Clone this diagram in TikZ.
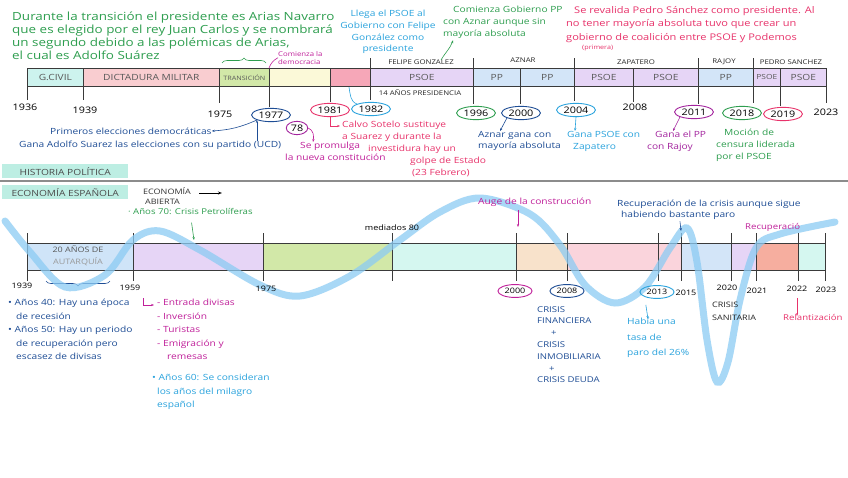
\documentclass[tikz,border=0pt]{standalone}
\usepackage{fontspec}
\setmainfont[FakeStretch=1.2]{Open Sans}
\usepackage{tikz}
\usetikzlibrary{positioning}
\usetikzlibrary{calc,shapes.geometric,decorations.pathreplacing,arrows.meta}

\definecolor{txtgreen}{HTML}{2E9E4F}
\definecolor{txtsky}{HTML}{2AA3DD}
\definecolor{txtnavy}{HTML}{1E4D95}
\definecolor{txtmag}{HTML}{C0209A}
\definecolor{txtpink}{HTML}{E8336B}
\definecolor{txtpurple}{HTML}{A3249E}
\definecolor{barline}{HTML}{3A3A3A}
\definecolor{cyanbar}{HTML}{CDF3EE}
\definecolor{pinkbar}{HTML}{F9CDD0}
\definecolor{greenbar}{HTML}{D2E8A8}
\definecolor{yellowbar}{HTML}{FBF9D8}
\definecolor{rosebar}{HTML}{F6A7B8}
\definecolor{lavbar}{HTML}{E6D5F6}
\definecolor{bluebar}{HTML}{D3E5F8}
\definecolor{autbar}{HTML}{CFE4F8}
\definecolor{mintbar}{HTML}{D5F7F0}
\definecolor{peachbar}{HTML}{F8E2CB}
\definecolor{salmonbar}{HTML}{F6AE9F}
\definecolor{softpink}{HTML}{FAD4DC}
\definecolor{headbg}{HTML}{BDEEE3}
\definecolor{wave}{HTML}{8CCBF3}

\tikzset{
  seg/.style={draw=barline, line width=0.7pt, inner sep=0pt, anchor=north west,
    text=black!65, font=\fontsize{8.5}{8.5}\selectfont},
  yr/.style={inner sep=1pt, font=\fontsize{9}{9}\selectfont},
  ring/.style={yr, ellipse, draw=#1, line width=0.9pt, inner sep=1.4pt},
  lowyr/.style={inner sep=1pt, font=\fontsize{7.5}{7.5}\selectfont},
  lowring/.style={lowyr, ellipse, draw=#1, line width=0.9pt, inner sep=1.8pt},
  note/.style={inner sep=0pt, anchor=north west, align=left,
    font=\fontsize{8.5}{11.7}\selectfont},
  lbl/.style={inner sep=0pt, text=black!85, font=\fontsize{6.5}{6.5}\selectfont},
  bartick/.style={barline, line width=0.8pt},
  hint/.style={-{Stealth[length=3pt]}, line width=0.6pt},
  secthead/.style={fill=headbg, inner sep=2pt, anchor=north west, text=black!70,
    font=\fontsize{8.5}{8.5}\selectfont, minimum height=14pt, minimum width=126pt},
}

\begin{document}
\begin{tikzpicture}[x=1pt,y=-1pt]

	\path[use as bounding box, fill=white] (0,0) rectangle (848,477);

	% HISTORIA POLITICA: barra de periodos
	\foreach \a/\b/\c/\t in {27/83/cyanbar/G.CIVIL, 83/219/pinkbar/DICTADURA MILITAR,
	    219/269/greenbar/{\fontsize{6}{6}\selectfont TRANSICIÓN}, 269/330/yellowbar/{}, 330/370/rosebar/{},
	    370/473/lavbar/PSOE, 473/520/bluebar/PP, 520/574/bluebar/PP, 574/633/lavbar/PSOE,
	    633/698/lavbar/PSOE, 698/753/bluebar/PP, 753/780/lavbar/{\fontsize{7}{7}\selectfont PSOE},
	    780/826/lavbar/PSOE}
	  \node[seg, fill=\c, minimum width={(\b-\a)*1pt}, minimum height=18pt] (top\a) at (\a,68) {\t};

	\foreach \x/\ya/\yb in {27/68/100, 83/68/100, 219/68/103, 269/68/107, 330/68/102, 370/58/100,
	    473/58/104, 520/86/104, 574/58/101, 633/86/102, 698/58/104, 753/58/103, 780/86/106, 826/68/103}
	  \draw[bartick] (\x,\ya) -- (\x,\yb);

	% presidentes
	\node[lbl] (felipe) at (421,62) {FELIPE GONZALEZ};
	\node[lbl] (aznar) at (523,60) {AZNAR};
	\node[lbl] (zapatero) at (636,62) {ZAPATERO};
	\node[lbl] (rajoy) at (724,62) {RAJOY};
	\node[lbl] (pedro) at (791,62) {PEDRO SANCHEZ};
	\node[lbl] (catorce) at (420,93) {14 AÑOS PRESIDENCIA};

	% años
	\node[yr] (y1936) at (25,107) {1936};
	\node[yr] (y1939) at (85,110) {1939};
	\node[yr] (y1975) at (220,114) {1975};
	\node[ring=txtnavy] (y1977) at (271,115) {1977};
	\node[ring=txtpink] (y1981) at (330,110) {1981};
	\node[ring=txtsky] (y1982) at (371,109) {1982};
	\node[ring=txtgreen] (y1996) at (476,113) {1996};
	\node[ring=txtnavy] (y2000) at (521,113) {2000};
	\node[ring=txtsky] (y2004) at (576,110) {2004};
	\node[yr] (y2008) at (635,107) {2008};
	\node[ring=txtpurple] (y2011) at (694,112) {2011};
	\node[ring=txtgreen] (y2018) at (742,113) {2018};
	\node[ring=txtpink] (y2019) at (783,114) {2019};
	\node[yr] (y2023) at (826,112) {2023};
	\node[ring=txtpurple] (y78) at (297,128) {78};

	% notas de arriba
	\node[note, text=txtgreen, font=\fontsize{11.2}{12.8}\selectfont] (arias) at (12,12)
	  {Durante la transición el presidente es Arias Navarro\\que es elegido por el rey Juan Carlos y se nombrará\\un segundo debido a las polémicas de Arias,\\el cual es Adolfo Suárez};
	\draw[decorate, decoration={brace, amplitude=5pt}, txtgreen, line width=0.6pt] (222,63) -- (266,63);

	\node[note, text=txtmag, font=\fontsize{6.5}{8}\selectfont] (demo) at (278,51) {Comienza la\\democracia};
	\coordinate (c1977) at (269,68);
	\draw[txtmag, line width=0.6pt] (demo.west) to[bend right=20] (c1977);

	\node[note, text=txtsky, align=center, anchor=north] (llega) at (388,10)
	  {Llega el PSOE al\\Gobierno con Felipe\\González como\\presidente};
	\coordinate (cpsoe) at (349,87);
	\draw[txtsky, line width=0.6pt] (y1982.north west) to[out=160, in=-80] (cpsoe);

	\node[note, text=txtgreen] (aznartxt) at (443,6)
	  {\hspace*{10pt}Comienza Gobierno PP\\con Aznar aunque sin\\mayoría absoluta};
	\coordinate (cfelipe) at (441,60);
	\draw[txtgreen, hint] (cfelipe) to[out=60, in=-110] ([xshift=10pt,yshift=-2pt]aznartxt.south west);

	\node[note, text=txtpink, font=\fontsize{9.2}{13.5}\selectfont] (revalida) at (566,6)
	  {\hspace*{8pt}Se revalida Pedro Sánchez como presidente. Al\\no tener mayoría absoluta tuvo que crear un\\gobierno de coalición entre PSOE y Podemos};
	\node[note, text=txtpink, font=\fontsize{6}{6}\selectfont] (primera) at (582,45) {(primera)};

	% notas de abajo
	\node[note, text=txtnavy, anchor=west] (primeras) at (50,131) {Primeros elecciones democráticas};
	\node[note, text=txtnavy, anchor=west] (gana) at (19,145) {Gana Adolfo Suarez las elecciones con su partido (UCD)};
	\draw[txtnavy, hint] (y1977.south west) to[bend left=10] (primeras.east);
	\draw[txtnavy, hint] (gana.north -| y1977.south west) -- (y1977.south west);

	\node[note, text=txtmag] (constit) at (285,142) {\hspace*{15pt}Se promulga\\la nueva constitución};
	\draw[txtmag, hint] (y78.east) to[out=-20, in=80] ([xshift=28pt]constit.north west);

	\node[note, text=txtpink] (calvo) at (342,121) {Calvo Sotelo sustituye\\a Suarez y durante la\\\hspace*{26pt}investidura hay un};
	\node[note, text=txtpink] (golpe) at (410,157) {golpe de Estado\\\hspace*{2pt}(23 Febrero)};
	\draw[txtpink, hint] (y1981.south) |- ([xshift=-2pt,yshift=-5pt]calvo.north west);

	\node[note, text=txtnavy] (aznargana) at (478,131) {Aznar gana con\\mayoría absoluta};
	\draw[txtnavy, hint] (y2000.south west) -- ([xshift=22pt]aznargana.north west);
	\node[note, text=txtsky] (ganapsoe) at (567,131) {Gana PSOE con\\\hspace*{6pt}Zapatero};
	\draw[txtsky, hint] (y2004.south) -- ([xshift=8pt]ganapsoe.north west);
	\node[note, text=txtpurple] (ganapp) at (647,131) {\hspace*{8pt}Gana el PP\\con Rajoy};
	\draw[txtpurple, hint] (y2011.south west) -- ([xshift=26pt]ganapp.north west);
	\node[note, text=txtgreen] (mocion) at (716,129) {\hspace*{8pt}Moción de\\censura liderada\\por el PSOE};

	% secciones
	\node[secthead] (hpol) at (2,164) {HISTORIA POLÍTICA};
	\draw[black!45, line width=2.5pt] (0,181) -- (848,181);
	\node[secthead] (econ) at (2,185) {ECONOMÍA ESPAÑOLA};

	% ECONOMIA: barra
	\foreach \a/\b/\c in {27/133/autbar, 133/263/lavbar, 263/392/greenbar, 392/516/mintbar,
	    516/567/peachbar, 567/681/softpink, 681/731/bluebar, 731/756/lavbar, 756/798/salmonbar, 798/825/mintbar}
	  \node[seg, fill=\c, minimum width={(\b-\a)*1pt}, minimum height=27pt] (eco\a) at (\a,243) {};

	\foreach \x in {27,133,263,392,516,567,658,681,731,756,798,825}
	  \draw[bartick] (\x,233) -- (\x,281);

	\node[note, anchor=north, align=center, text=black!65, font=\fontsize{7.5}{12}\selectfont] (autarquia) at (78,246)
	  {20 AÑOS DE\\\textcolor{black!40}{AUTARQUÍA}};
	\draw[decorate, decoration={brace, amplitude=5pt}, txtnavy, line width=0.6pt] (110,281) -- (46,281);

	% curva de la economia
	\draw[wave, line width=7pt, opacity=0.75, line cap=round] plot[smooth, tension=0.55] coordinates {
	  (5,221) (30,252) (65,287) (105,275) (133,240) (160,231) (200,250) (260,285) (300,296)
	  (350,276) (400,240) (440,212) (480,198) (530,214) (560,245) (585,285) (615,303) (645,287)
	  (670,248) (687,228) (697,262) (707,340) (717,382) (728,362) (740,300) (756,248) (780,234) (835,222)};

	\node[lowyr] (e1939) at (22,286) {1939};
	\node[lowyr] (e1959) at (130,288) {1959};
	\node[lowyr] (e1975) at (266,289) {1975};
	\node[lowyr] (mediados) at (392,228) {mediados 80};
	\node[lowring=txtmag] (e2000) at (515,291) {2000};
	\node[lowring=txtnavy] (e2008) at (567,291) {2008};
	\node[lowring=txtsky] (e2013) at (657,292) {2013};
	\node[lowyr] (e2015) at (686,293) {2015};
	\node[lowyr] (e2020) at (727,288) {2020};
	\node[lowyr] (e2021) at (757,291) {2021};
	\node[lowyr] (e2022) at (797,289) {2022};
	\node[lowyr] (e2023) at (826,290) {2023};

	% notas economia
	\node[note, text=black!80, font=\fontsize{7.5}{10}\selectfont] (abierta) at (143,187) {ECONOMÍA\\\hspace*{2pt}ABIERTA};
	\coordinate (abiertaend) at (222,193);
	\draw[-{Stealth[length=4pt,open]}, line width=0.6pt] ([xshift=8pt,yshift=-6pt]abierta.north east) -- (abiertaend);
	\node[note, text=txtgreen, font=\fontsize{8}{10}\selectfont] (petro) at (128,208) {· Años 70: Crisis Petrolíferas};
	\coordinate (petroarrow) at (194,240);
	\draw[txtgreen, hint, shorten <=8pt] (petro.south) -- (petroarrow);

	\node[note, text=txtmag, font=\fontsize{8.5}{10}\selectfont] (auge) at (478,198) {Auge de la construcción};
	\coordinate (c2000top) at (518,227);
	\draw[txtmag, hint] ([xshift=40pt,yshift=-3pt]auge.south west) -- (c2000top);

	\node[note, text=txtnavy, font=\fontsize{8.5}{10.5}\selectfont] (recup) at (617,200)
	  {Recuperación de la crisis aunque sigue\\\hspace*{4pt}habiendo bastante paro};
	\coordinate (cpeak) at (681,231);
	\draw[txtnavy, hint] ([xshift=63pt,yshift=-2pt]recup.south west) -- (cpeak);
	\node[note, text=txtmag, font=\fontsize{8}{8}\selectfont] (recup2) at (745,223) {Recuperació};

	\node[note, text=txtnavy, font=\fontsize{8.5}{13.5}\selectfont] (anos4050) at (8,299)
	  {• Años 40: Hay una época\\\hspace*{8pt}de recesión\\• Años 50: Hay un periodo\\\hspace*{8pt}de recuperación pero\\\hspace*{8pt}escasez de divisas};

	\node[note, text=txtmag, font=\fontsize{8.5}{13.5}\selectfont] (divisas) at (157,299)
	  {- Entrada divisas\\- Inversión\\- Turistas\\- Emigración y\\\hspace*{10pt}remesas};
	\draw[txtmag, hint] ([xshift=-14pt,yshift=1pt]divisas.north west) |- ([xshift=-3pt,yshift=-6pt]divisas.north west);

	\node[note, text=txtsky, font=\fontsize{8.5}{13.5}\selectfont] (anos60) at (152,374)
	  {• Años 60: Se consideran\\\hspace*{5pt}los años del milagro\\\hspace*{5pt}español};

	\node[note, text=txtnavy, font=\fontsize{8}{11.8}\selectfont] (crisis) at (537,306)
	  {CRISIS\\FINANCIERA\\\hspace*{14pt}+\\CRISIS\\INMOBILIARIA\\\hspace*{12pt}+\\CRISIS DEUDA};

	\node[note, text=txtsky, font=\fontsize{8.5}{15.5}\selectfont] (paro) at (627,318) {Había una\\tasa de\\paro del 26\%};
	\draw[txtsky, hint, shorten <=8pt] (e2013.south west) -- ([xshift=21pt,yshift=-1pt]paro.north west);

	\node[note, text=black!85, font=\fontsize{7.5}{13}\selectfont] (sanit) at (712,302) {CRISIS\\SANITARIA};

	\node[note, text=txtpink, font=\fontsize{8}{8}\selectfont] (relant) at (783,314) {Relantización};
	\draw[txtpink, hint, shorten <=5pt] (e2022.south) -- ([xshift=14pt,yshift=-2pt]relant.north west);

\end{tikzpicture}
\end{document}
